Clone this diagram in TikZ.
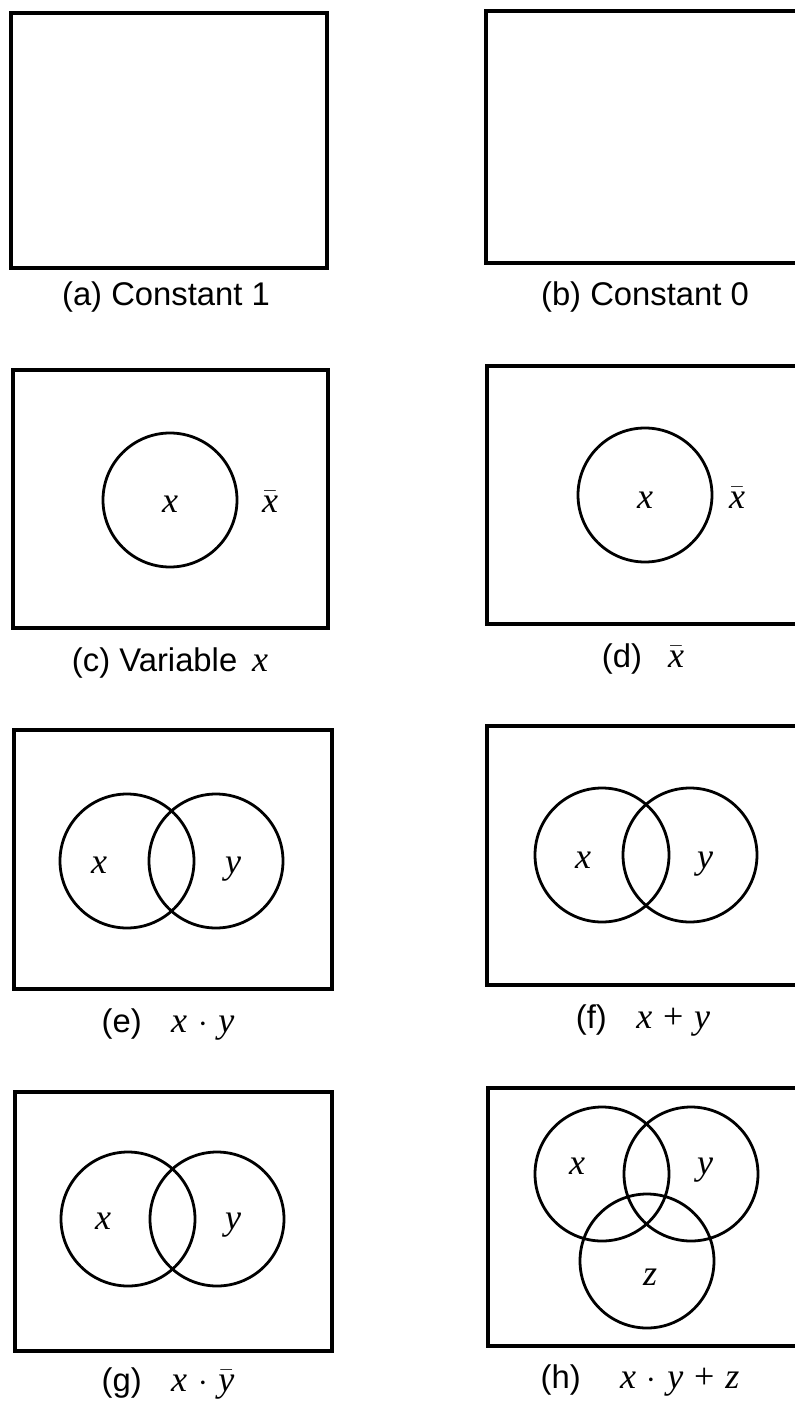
\documentclass[tikz,border=0pt]{standalone}
\usepackage{fontspec}
\setmainfont{Liberation Sans}
\newfontfamily\tms{Liberation Serif}
\newcommand{\V}[1]{{\tms\itshape #1}}
\newcommand{\VB}[1]{$\bar{\mbox{\tms\itshape #1}}$}
\newcommand{\gap}{\hspace{0.3em}}
\begin{document}
\begin{tikzpicture}[x=0.5pt,y=-0.5pt,
  frame/.style={draw,line width=2pt},
  venn/.style={circle,draw,line width=1.4pt,minimum size=67pt,inner sep=0pt},
  captext/.style={inner sep=0pt,font=\fontsize{16.4}{19}\selectfont},
  var/.style={inner sep=0pt,anchor=base,font=\fontsize{18}{21}\selectfont}]
\useasboundingbox (0,0) rectangle (795,1402);
\clip (0,0) rectangle (795,1402);
% (a)
\draw[frame] (11,13) rectangle (327,268);
\node[captext] (la) at (166,297) {(a) Constant 1};
% (b)
\draw[frame] (486,11) rectangle (805,263);
\node[captext] (lb) at (645,297) {(b) Constant 0};
% (c)
\draw[frame] (13,370) rectangle (328,628);
\node[venn] (cc) at (170,500) {};
\node[var] (cx) at (170,512) {\V{x}};
\node[var] (cxb) at (270,512) {\VB{x}};
\node[captext] (lc) at (170,663) {(c) Variable\hspace{0.45em}{\fontsize{18}{21}\selectfont\V{x}}};
% (d)
\draw[frame] (487,366) rectangle (805,624);
\node[venn] (dc) at (645,495) {};
\node[var] (dx) at (645,508) {\V{x}};
\node[var] (dxb) at (737,508) {\VB{x}};
\node[captext] (ld) at (643,659) {(d)\hspace{0.8em}{\fontsize{18}{21}\selectfont\VB{x}}};
% (e)
\draw[frame] (14,730) rectangle (332,989);
\node[venn] (ec1) at (127,861) {};
\node[venn] (ec2) at (216,861) {};
\node[var] (ex) at (99,873) {\V{x}};
\node[var] (ey) at (233,873) {\V{y}};
\node[captext] (le) at (168,1024) {(e)\hspace{0.9em}{\fontsize{18}{21}\selectfont\V{x}\gap$\cdot$\gap\V{y}}};
% (f)
\draw[frame] (487,726) rectangle (805,985);
\node[venn] (fc1) at (602,855) {};
\node[venn] (fc2) at (690,855) {};
\node[var] (fx) at (583,868) {\V{x}};
\node[var] (fy) at (705,868) {\V{y}};
\node[captext] (lf) at (643,1020) {(f)\hspace{0.9em}{\fontsize{18}{21}\selectfont\V{x}\gap{\tms+}\gap\V{y}}};
% (g)
\draw[frame] (15,1092) rectangle (332,1351);
\node[venn] (gc1) at (128,1219) {};
\node[venn] (gc2) at (217,1219) {};
\node[var] (gx) at (103,1229) {\V{x}};
\node[var] (gy) at (233,1229) {\V{y}};
\node[captext] (lg) at (168,1383) {(g)\hspace{0.9em}{\fontsize{18}{21}\selectfont\V{x}\gap$\cdot$\gap\VB{y}}};
% (h)
\draw[frame] (488,1088) rectangle (805,1346);
\node[venn] (hc1) at (602,1174) {};
\node[venn] (hc2) at (691,1174) {};
\node[venn] (hc3) at (647,1261) {};
\node[var] (hx) at (577,1174) {\V{x}};
\node[var] (hy) at (705,1174) {\V{y}};
\node[var] (hz) at (650,1285) {\V{z}};
\node[captext] (lh) at (640,1380) {(h)\hspace{1.2em}{\fontsize{18}{21}\selectfont\V{x}\gap$\cdot$\gap\V{y}\gap{\tms+}\gap\V{z}}};
\end{tikzpicture}
\end{document}
